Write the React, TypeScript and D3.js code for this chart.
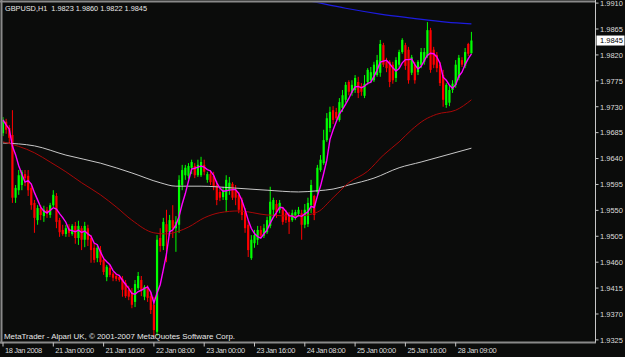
import React from "react";
import * as d3 from "d3";

const W = 625;
const H = 357;

const titleText = "GBPUSD,H1  1.9823 1.9860 1.9822 1.9845";
const copyrightText = "MetaTrader - Alpari UK, \u00a9 2001-2007 MetaQuotes Software Corp.";

const opens = [
  1.9684, 1.9704, 1.9693, 1.9681, 1.9572, 1.9585, 1.9594, 1.9613, 1.9610, 1.9589,
  1.9563, 1.9533, 1.9554, 1.9540, 1.9551, 1.9542, 1.9559, 1.9575, 1.9533, 1.9516,
  1.9509, 1.9519, 1.9509, 1.9523, 1.9502, 1.9519, 1.9499, 1.9519, 1.9502, 1.9485,
  1.9467, 1.9481, 1.9464, 1.9434, 1.9450, 1.9440, 1.9436, 1.9434, 1.9431, 1.9424,
  1.9412, 1.9408, 1.9391, 1.9415, 1.9429, 1.9400, 1.9415, 1.9401, 1.9386, 1.9339,
  1.9502, 1.9488, 1.9526, 1.9512, 1.9533, 1.9519, 1.9525, 1.9594, 1.9611, 1.9610,
  1.9624, 1.9627, 1.9611, 1.9611, 1.9629, 1.9603, 1.9613, 1.9610, 1.9594, 1.9582,
  1.9573, 1.9568, 1.9585, 1.9596, 1.9585, 1.9577, 1.9568, 1.9547, 1.9525, 1.9467,
  1.9493, 1.9499, 1.9516, 1.9506, 1.9512, 1.9523, 1.9551, 1.9561, 1.9551, 1.9551,
  1.9545, 1.9542, 1.9533, 1.9539, 1.9544, 1.9545, 1.9525, 1.9526, 1.9559, 1.9575,
  1.9582, 1.9620, 1.9632, 1.9672, 1.9693, 1.9724, 1.9721, 1.9707, 1.9728, 1.9742,
  1.9773, 1.9754, 1.9759, 1.9773, 1.9766, 1.9749, 1.9773, 1.9776, 1.9776, 1.9785,
  1.9789, 1.9837, 1.9808, 1.9808, 1.9803, 1.9780, 1.9803, 1.9825, 1.9837, 1.9829,
  1.9789, 1.9803, 1.9790, 1.9803, 1.9808, 1.9818, 1.9863, 1.9829, 1.9820, 1.9803,
  1.9785, 1.9733, 1.9737, 1.9759, 1.9768, 1.9780, 1.9811, 1.9801, 1.9839, 1.9823,
];

const highs = [
  1.9712, 1.9709, 1.9698, 1.9724, 1.9594, 1.9620, 1.9620, 1.9620, 1.9620, 1.9596,
  1.9568, 1.9559, 1.9559, 1.9558, 1.9556, 1.9563, 1.9585, 1.9580, 1.9537, 1.9525,
  1.9525, 1.9526, 1.9526, 1.9530, 1.9532, 1.9523, 1.9530, 1.9525, 1.9507, 1.9493,
  1.9490, 1.9488, 1.9469, 1.9455, 1.9455, 1.9443, 1.9440, 1.9438, 1.9436, 1.9429,
  1.9419, 1.9415, 1.9429, 1.9443, 1.9436, 1.9420, 1.9420, 1.9408, 1.9400, 1.9507,
  1.9519, 1.9537, 1.9551, 1.9542, 1.9559, 1.9540, 1.9611, 1.9629, 1.9629, 1.9632,
  1.9638, 1.9632, 1.9638, 1.9643, 1.9638, 1.9617, 1.9620, 1.9617, 1.9601, 1.9589,
  1.9591, 1.9611, 1.9608, 1.9599, 1.9594, 1.9582, 1.9572, 1.9554, 1.9533, 1.9507,
  1.9516, 1.9523, 1.9523, 1.9526, 1.9539, 1.9591, 1.9572, 1.9568, 1.9568, 1.9556,
  1.9551, 1.9547, 1.9551, 1.9551, 1.9556, 1.9551, 1.9561, 1.9572, 1.9603, 1.9577,
  1.9629, 1.9646, 1.9690, 1.9719, 1.9730, 1.9731, 1.9728, 1.9745, 1.9759, 1.9773,
  1.9776, 1.9776, 1.9785, 1.9782, 1.9771, 1.9785, 1.9797, 1.9799, 1.9808, 1.9820,
  1.9846, 1.9841, 1.9815, 1.9811, 1.9808, 1.9816, 1.9829, 1.9849, 1.9841, 1.9834,
  1.9820, 1.9808, 1.9811, 1.9832, 1.9832, 1.9877, 1.9867, 1.9834, 1.9825, 1.9808,
  1.9794, 1.9771, 1.9766, 1.9776, 1.9811, 1.9820, 1.9816, 1.9832, 1.9841, 1.9860,
];

const lows = [
  1.9679, 1.9683, 1.9667, 1.9563, 1.9563, 1.9577, 1.9585, 1.9592, 1.9575, 1.9551,
  1.9511, 1.9525, 1.9533, 1.9530, 1.9537, 1.9537, 1.9556, 1.9519, 1.9504, 1.9506,
  1.9504, 1.9504, 1.9506, 1.9492, 1.9490, 1.9481, 1.9486, 1.9488, 1.9459, 1.9459,
  1.9460, 1.9455, 1.9438, 1.9427, 1.9434, 1.9427, 1.9427, 1.9426, 1.9400, 1.9398,
  1.9394, 1.9380, 1.9382, 1.9412, 1.9401, 1.9394, 1.9391, 1.9370, 1.9332, 1.9332,
  1.9478, 1.9481, 1.9460, 1.9506, 1.9502, 1.9478, 1.9511, 1.9585, 1.9603, 1.9605,
  1.9613, 1.9606, 1.9608, 1.9608, 1.9611, 1.9598, 1.9594, 1.9585, 1.9559, 1.9566,
  1.9568, 1.9547, 1.9577, 1.9568, 1.9559, 1.9545, 1.9533, 1.9511, 1.9469, 1.9464,
  1.9485, 1.9490, 1.9502, 1.9502, 1.9509, 1.9519, 1.9537, 1.9537, 1.9545, 1.9525,
  1.9528, 1.9509, 1.9530, 1.9533, 1.9539, 1.9499, 1.9519, 1.9521, 1.9545, 1.9533,
  1.9577, 1.9617, 1.9629, 1.9669, 1.9686, 1.9700, 1.9707, 1.9704, 1.9721, 1.9737,
  1.9750, 1.9749, 1.9754, 1.9745, 1.9749, 1.9745, 1.9768, 1.9771, 1.9773, 1.9782,
  1.9782, 1.9799, 1.9790, 1.9764, 1.9770, 1.9773, 1.9797, 1.9822, 1.9794, 1.9770,
  1.9785, 1.9770, 1.9785, 1.9797, 1.9803, 1.9815, 1.9789, 1.9797, 1.9790, 1.9766,
  1.9730, 1.9728, 1.9731, 1.9754, 1.9763, 1.9776, 1.9799, 1.9797, 1.9818, 1.9822,
];

const closes = [
  1.9707, 1.9690, 1.9676, 1.9572, 1.9589, 1.9611, 1.9617, 1.9606, 1.9585, 1.9559,
  1.9537, 1.9554, 1.9542, 1.9551, 1.9544, 1.9559, 1.9577, 1.9530, 1.9512, 1.9509,
  1.9519, 1.9511, 1.9523, 1.9502, 1.9523, 1.9499, 1.9523, 1.9499, 1.9481, 1.9464,
  1.9485, 1.9460, 1.9443, 1.9452, 1.9438, 1.9433, 1.9431, 1.9429, 1.9412, 1.9401,
  1.9400, 1.9386, 1.9422, 1.9436, 1.9412, 1.9417, 1.9398, 1.9377, 1.9342, 1.9499,
  1.9488, 1.9530, 1.9512, 1.9533, 1.9519, 1.9530, 1.9603, 1.9620, 1.9624, 1.9627,
  1.9634, 1.9611, 1.9629, 1.9634, 1.9617, 1.9613, 1.9599, 1.9592, 1.9568, 1.9572,
  1.9585, 1.9603, 1.9598, 1.9572, 1.9572, 1.9551, 1.9542, 1.9519, 1.9481, 1.9499,
  1.9507, 1.9516, 1.9506, 1.9519, 1.9533, 1.9565, 1.9568, 1.9547, 1.9563, 1.9530,
  1.9533, 1.9530, 1.9545, 1.9547, 1.9551, 1.9525, 1.9551, 1.9563, 1.9594, 1.9542,
  1.9624, 1.9638, 1.9672, 1.9710, 1.9721, 1.9707, 1.9710, 1.9738, 1.9750, 1.9768,
  1.9756, 1.9768, 1.9780, 1.9754, 1.9756, 1.9770, 1.9794, 1.9790, 1.9803, 1.9811,
  1.9839, 1.9803, 1.9797, 1.9773, 1.9776, 1.9811, 1.9825, 1.9846, 1.9801, 1.9776,
  1.9816, 1.9776, 1.9808, 1.9825, 1.9825, 1.9863, 1.9794, 1.9803, 1.9797, 1.9771,
  1.9742, 1.9768, 1.9759, 1.9770, 1.9803, 1.9815, 1.9803, 1.9825, 1.9822, 1.9845,
];

// Slow moving averages, read at sample bars
const silverMABars = [0, 10, 20, 31, 41, 50, 55, 63, 73, 84, 94, 100, 105, 110, 118, 126, 133, 139, 149];
const silverMAValues = [1.9667, 1.9662, 1.9646, 1.9632, 1.9615, 1.9598, 1.9592, 1.9592, 1.9589, 1.9585, 1.9582, 1.9584, 1.9587, 1.9594, 1.9606, 1.9624, 1.9634, 1.9643, 1.9658];

const maroonMABars = [0, 10, 15, 20, 25, 31, 36, 41, 48, 52, 56, 59, 64, 69, 75, 84, 94, 100, 105, 110, 116, 121, 126, 130, 134, 138, 144, 149];
const maroonMAValues = [1.9669, 1.9650, 1.9634, 1.9617, 1.9598, 1.9577, 1.9556, 1.9533, 1.9511, 1.9509, 1.9514, 1.9521, 1.9537, 1.9546, 1.9549, 1.9542, 1.9540, 1.9547, 1.9572, 1.9598, 1.9618, 1.9646, 1.9669, 1.9690, 1.9707, 1.9717, 1.9724, 1.9742];

const blueMABars = [90, 99, 109, 120, 130, 141, 149];
const blueMAValues = [1.9922, 1.9912, 1.9901, 1.9891, 1.9884, 1.9877, 1.9874];

const fastPeriod = 5;

const timeLabels = [
  "18 Jan 2008", "21 Jan 00:00", "21 Jan 16:00", "22 Jan 08:00", "23 Jan 00:00",
  "23 Jan 16:00", "24 Jan 08:00", "25 Jan 00:00", "25 Jan 16:00", "28 Jan 09:00",
];
const timeLabelBars = [0, 16, 32, 48, 64, 80, 96, 112, 128, 144];

const priceTicks = [1.991, 1.9865, 1.982, 1.9775, 1.973, 1.9685, 1.964, 1.9595, 1.955, 1.9505, 1.946, 1.9415, 1.937, 1.9325];
const lastPrice = 1.9845;

const FONT = "'Liberation Sans', Arial, sans-serif";

export default function App() {
  const x = d3.scaleLinear().domain([0, 16]).range([3, 53.3]);
  const y = d3.scaleLinear().domain([1.991, 1.9325]).range([3.1, 339.9]);

  const bars = d3.range(closes.length);
  const fast = bars.map((i) => d3.mean(closes.slice(Math.max(0, i - fastPeriod + 1), i + 1)) as number);

  const line = d3
    .line<[number, number]>()
    .x((d) => x(d[0]))
    .y((d) => y(d[1]))
    .curve(d3.curveMonotoneX);

  const silverPath = line(silverMABars.map((b, k) => [b, silverMAValues[k]]));
  const maroonPath = line(maroonMABars.map((b, k) => [b, maroonMAValues[k]]));
  const bluePath = line(blueMABars.map((b, k) => [b, blueMAValues[k]]));
  const fastPath = d3
    .line<number>()
    .x((i) => x(i))
    .y((i) => y(fast[i]))(bars);

  const bg = "#0b0c0b";
  const plotRight = 595.5;
  const plotBottom = 342.5;

  return (
    <svg
      width={W}
      height={H}
      style={{ position: "absolute", left: 0, top: 0, display: "block" }}
      fontFamily={FONT}
    >
      <defs>
        <clipPath id="plot">
          <rect x={2.5} y={2.5} width={plotRight - 2.5} height={plotBottom - 3.5} />
        </clipPath>
      </defs>
      <rect x={0} y={0} width={W} height={H} fill={bg} />

      <g clipPath="url(#plot)">
        {bars.map((i) => {
          const up = closes[i] >= opens[i];
          const col = up ? "#00ff00" : "#ff0000";
          const cx = x(i);
          const yTop = y(Math.max(opens[i], closes[i]));
          const yBot = y(Math.min(opens[i], closes[i]));
          return (
            <g key={i}>
              <line x1={cx} x2={cx} y1={y(highs[i])} y2={y(lows[i])} stroke={col} strokeWidth={1} />
              <rect x={cx - 1.1} y={yTop} width={2.2} height={Math.max(1, yBot - yTop)} fill={col} />
            </g>
          );
        })}
        <path d={silverPath || ""} fill="none" stroke="#c8c8c8" strokeWidth={1} />
        <path d={maroonPath || ""} fill="none" stroke="#a80808" strokeWidth={1} />
        <path d={bluePath || ""} fill="none" stroke="#1c1ce0" strokeWidth={1.2} />
        <path d={fastPath || ""} fill="none" stroke="#ff00ff" strokeWidth={1.4} />
      </g>

      {/* frame */}
      <line x1={0} x2={plotRight} y1={1.5} y2={1.5} stroke="#8a8a8a" strokeWidth={2} />
      <line x1={1.5} x2={1.5} y1={0} y2={plotBottom + 1} stroke="#8a8a8a" strokeWidth={2} />
      <line x1={0} x2={plotRight + 0.5} y1={plotBottom} y2={plotBottom} stroke="#8a8a8a" strokeWidth={2} />
      <line x1={plotRight} x2={plotRight} y1={0} y2={plotBottom} stroke="#c8c8c8" strokeWidth={1} />

      {/* price axis */}
      {priceTicks.map((p) => (
        <g key={p}>
          <line x1={plotRight} x2={plotRight + 3} y1={y(p)} y2={y(p)} stroke="#c8c8c8" strokeWidth={1} />
          <text x={600} y={y(p) + 2.8} fontSize={7.5} fill="#dcdcdc">
            {p.toFixed(4)}
          </text>
        </g>
      ))}
      <rect x={596.5} y={y(lastPrice) - 5} width={28} height={10} fill="#ffffff" />
      <text x={600} y={y(lastPrice) + 2.8} fontSize={7.5} fill="#000000">
        {lastPrice.toFixed(4)}
      </text>

      {/* time axis */}
      {timeLabelBars.map((b, k) => (
        <g key={b}>
          <line x1={x(b)} x2={x(b)} y1={plotBottom} y2={plotBottom + 4} stroke="#c8c8c8" strokeWidth={1} />
          <text x={x(b) + 2} y={352.5} fontSize={7.5} letterSpacing={-0.4} fill="#dcdcdc">
            {timeLabels[k]}
          </text>
        </g>
      ))}

      <text
        x={5}
        y={11}
        fontSize={7.5}
        fill="#e8e8e8"
        textLength={142}
        lengthAdjust="spacingAndGlyphs"
        style={{ whiteSpace: "pre" }}
      >
        {titleText}
      </text>
      <text x={4} y={339} fontSize={7.5} fill="#e8e8e8" textLength={231} lengthAdjust="spacingAndGlyphs">
        {copyrightText}
      </text>
    </svg>
  );
}
